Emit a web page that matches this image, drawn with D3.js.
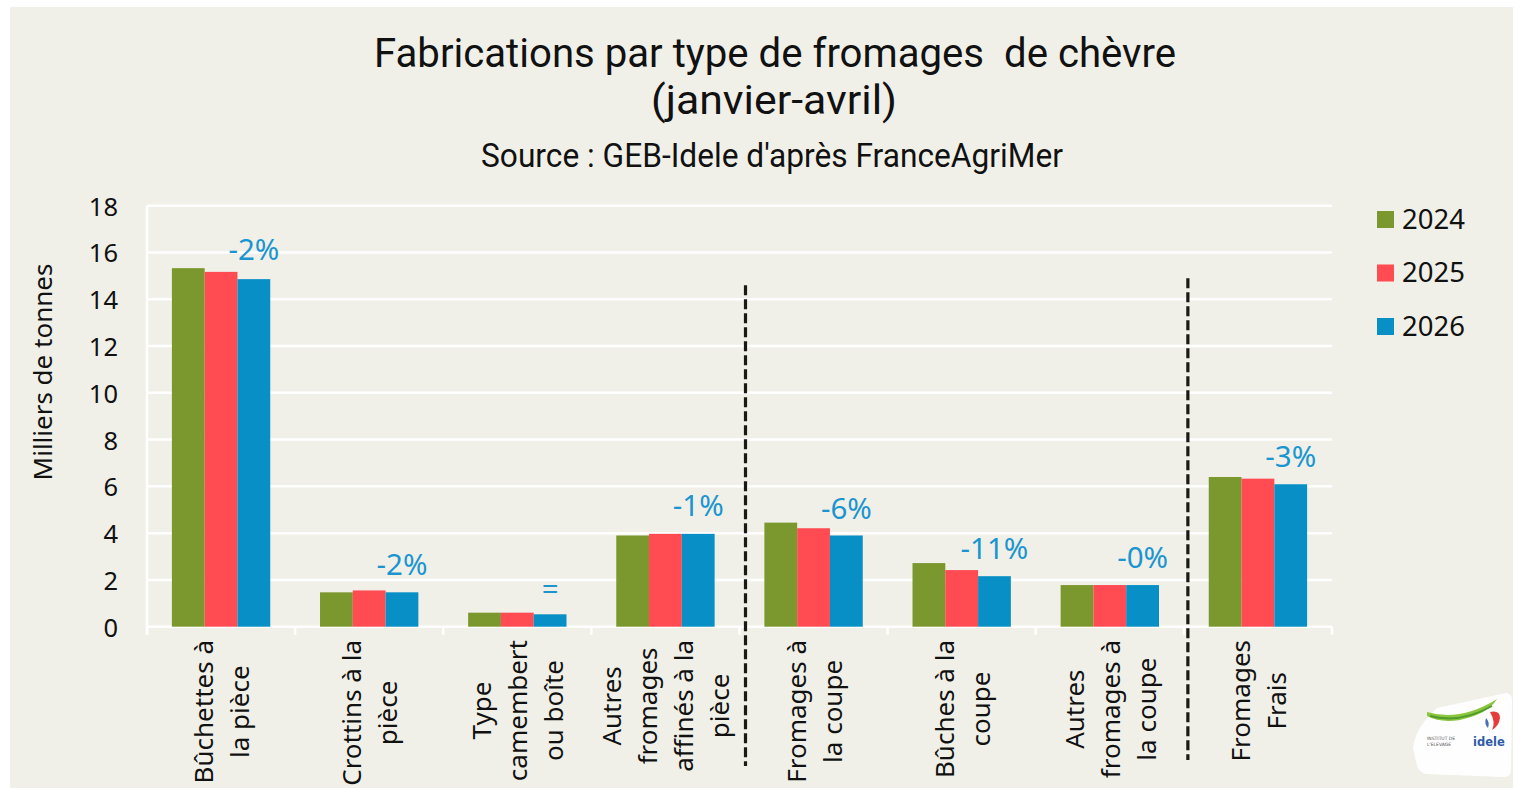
<!DOCTYPE html>
<html>
<head>
<meta charset="utf-8">
<script src="https://cdn.jsdelivr.net/npm/d3@7/dist/d3.min.js"></script>
<style>
  html, body { margin: 0; padding: 0; background: #ffffff; }
  svg { display: block; }
</style>
</head>
<body>
<svg id="chart" width="1516" height="788"></svg>
<script>
// ---------- DATA ----------
const categories = [
  "Bûchettes à la pièce", "Crottins à la pièce", "Type camembert ou boîte",
  "Autres fromages affinés à la pièce", "Fromages à la coupe", "Bûches à la coupe",
  "Autres fromages à la coupe", "Fromages Frais"
];
const categoryLines = [
  ["Bûchettes à", "la pièce"],
  ["Crottins à la", "pièce"],
  ["Type", "camembert", "ou boîte"],
  ["Autres", "fromages", "affinés à la", "pièce"],
  ["Fromages à", "la coupe"],
  ["Bûches à la", "coupe"],
  ["Autres", "fromages à", "la coupe"],
  ["Fromages", "Frais"]
];
const years = ["2024", "2025", "2026"];
const values2024 = [15.33, 1.47, 0.60, 3.90, 4.45, 2.72, 1.78, 6.40];
const values2025 = [15.17, 1.55, 0.60, 3.97, 4.21, 2.42, 1.78, 6.33];
const values2026 = [14.86, 1.47, 0.53, 3.97, 3.90, 2.16, 1.78, 6.09];
const changeLabels = ["-2%", "-2%", "=", "-1%", "-6%", "-11%", "-0%", "-3%"];
const changeLabelLevel = [16.15, 2.70, 1.69, 5.23, 5.09, 3.39, 2.99, 7.33];
const yTicks = [0, 2, 4, 6, 8, 10, 12, 14, 16, 18];
const separatorsAfter = [3, 6]; // dashed separators after these category indexes
const titleLines = ["Fabrications par type de fromages  de chèvre", "(janvier-avril)"];
const subtitle = "Source : GEB-Idele d'après FranceAgriMer";
const yAxisTitle = "Milliers de tonnes";

// ---------- STYLE ----------
const colors = { "2024": "#7b982e", "2025": "#ff4b51", "2026": "#088fc5" };
const bg = "#f0f0e8";
const labelBlue = "#1a95d0";
const bodyFont = "'Noto Sans', 'Open Sans', sans-serif";
const titleFont = "'Liberation Sans Narrow', 'Arial Narrow', 'Roboto', sans-serif";

const svg = d3.select("#chart");
svg.append("rect").attr("x", 10).attr("y", 7).attr("width", 1503).attr("height", 781).attr("fill", bg);

const plot = { left: 147, right: 1332, top: 205.7, bottom: 626.7 };

const x = d3.scaleBand().domain(categories).range([plot.left, plot.right]).paddingInner(0).paddingOuter(0);
const bw = x.bandwidth();
const x1 = d3.scaleBand().domain(years).range([bw * 0.168, bw * 0.832]);
const y = d3.scaleLinear().domain([0, 18]).range([plot.bottom, plot.top]);

// gridlines
svg.append("g").selectAll("line").data(yTicks).join("line")
  .attr("x1", plot.left).attr("x2", plot.right)
  .attr("y1", d => y(d)).attr("y2", d => y(d))
  .attr("stroke", "#ffffff").attr("stroke-width", 2.5);

// y axis line
svg.append("line").attr("x1", plot.left).attr("x2", plot.left)
  .attr("y1", y(18)).attr("y2", y(0) + 8)
  .attr("stroke", "#ffffff").attr("stroke-width", 2.5);

// x axis tick marks at category boundaries
const boundaries = categories.map(c => x(c)).concat([plot.right]);
svg.append("g").selectAll("line").data(boundaries).join("line")
  .attr("x1", d => d).attr("x2", d => d)
  .attr("y1", y(0)).attr("y2", y(0) + 8)
  .attr("stroke", "#ffffff").attr("stroke-width", 2.5);

// y tick labels
svg.append("g").selectAll("text").data(yTicks).join("text")
  .attr("x", 118).attr("y", d => y(d))
  .attr("text-anchor", "end").attr("dominant-baseline", "central")
  .attr("font-family", bodyFont).attr("font-size", 25.5).attr("fill", "#111")
  .text(d => d);

// y axis title
svg.append("text")
  .attr("transform", `translate(42, 372) rotate(-90)`)
  .attr("text-anchor", "middle").attr("dominant-baseline", "central")
  .attr("font-family", bodyFont).attr("font-size", 26).attr("fill", "#111")
  .text(yAxisTitle);

// bars
const seriesValues = { "2024": values2024, "2025": values2025, "2026": values2026 };
const barData = [];
categories.forEach((c, i) => years.forEach(yr => barData.push({ c, yr, v: seriesValues[yr][i] })));
svg.append("g").selectAll("rect").data(barData).join("rect")
  .attr("x", d => x(d.c) + x1(d.yr))
  .attr("width", x1.bandwidth())
  .attr("y", d => y(d.v))
  .attr("height", d => y(0) - y(d.v))
  .attr("fill", d => colors[d.yr]);

// change labels
svg.append("g").selectAll("text").data(categories).join("text")
  .attr("x", (c) => x(c) + x1("2026") + x1.bandwidth() / 2)
  .attr("y", (c, i) => y(changeLabelLevel[i]))
  .attr("text-anchor", "middle").attr("dominant-baseline", "central")
  .attr("font-family", bodyFont).attr("font-size", 29.5).attr("fill", labelBlue)
  .text((c, i) => changeLabels[i]);

// dashed separators
const sepTop = [14.6, 14.9];
separatorsAfter.forEach((idx, k) => {
  const sx = x(categories[idx]) + bw + (k === 0 ? 6 : 4);
  svg.append("line")
    .attr("x1", sx).attr("x2", sx)
    .attr("y1", y(sepTop[k])).attr("y2", k === 0 ? 766 : 760)
    .attr("stroke", "#1a1a14").attr("stroke-width", 3.2)
    .attr("stroke-dasharray", "10,4");
});

// x category labels (rotated, multiline, centred)
const lineGap = 36;
const labelTop = 640;
categoryLines.forEach((lines, i) => {
  const cx = x(categories[i]) + bw / 2;
  const g = svg.append("g");
  const texts = lines.map((ln, j) => g.append("text")
    .attr("text-anchor", "middle").attr("dominant-baseline", "central")
    .attr("font-family", bodyFont).attr("font-size", 26).attr("fill", "#111")
    .text(ln));
  const maxLen = d3.max(texts, t => t.node().getComputedTextLength());
  texts.forEach((t, j) => {
    const lx = cx + (j - (lines.length - 1) / 2) * lineGap;
    t.attr("transform", `translate(${lx}, ${labelTop + maxLen / 2}) rotate(-90)`);
  });
});

// legend
years.forEach((yr, i) => {
  const ly = 219 + i * 53.5;
  svg.append("rect").attr("x", 1377).attr("y", ly - 8).attr("width", 17).attr("height", 17).attr("fill", colors[yr]);
  svg.append("text").attr("x", 1402).attr("y", ly - 1)
    .attr("dominant-baseline", "central")
    .attr("font-family", bodyFont).attr("font-size", 27.5).attr("fill", "#111")
    .text(yr);
});

// titles
svg.append("text").attr("x", 775).attr("y", 67).attr("text-anchor", "middle")
  .attr("font-family", titleFont).attr("font-size", 40).attr("fill", "#111")
  .attr("textLength", 802).attr("lengthAdjust", "spacingAndGlyphs")
  .style("white-space", "pre").text(titleLines[0]);
svg.append("text").attr("x", 774).attr("y", 114).attr("text-anchor", "middle")
  .attr("font-family", titleFont).attr("font-size", 40).attr("fill", "#111")
  .attr("textLength", 246).attr("lengthAdjust", "spacingAndGlyphs")
  .text(titleLines[1]);
svg.append("text").attr("x", 772).attr("y", 167).attr("text-anchor", "middle")
  .attr("font-family", titleFont).attr("font-size", 34).attr("fill", "#111")
  .attr("textLength", 582).attr("lengthAdjust", "spacingAndGlyphs")
  .text(subtitle);

// logo (approximation)
const logo = svg.append("g");
logo.append("path").attr("d", "M1437,708 L1506,693 Q1513,694 1512,702 L1511,772 Q1510,777 1503,777 L1426,774 Q1418,772 1416,762 L1413,748 Q1415,728 1437,708 Z")
  .attr("fill", "#ffffff").attr("opacity", 0.92);
logo.append("path").attr("d", "M1427,712 Q1460,722 1497,699 Q1488,714 1460,720 Q1440,723 1427,716 Z")
  .attr("fill", "#8cc63f");
logo.append("path").attr("d", "M1430,716 Q1460,724 1492,706").attr("fill", "none").attr("stroke", "#4e9a2a").attr("stroke-width", 2);
logo.append("path").attr("d", "M1490,712 Q1500,710 1500,718 Q1499,726 1492,730 Q1496,722 1490,712 Z").attr("fill", "#e63c3c");
logo.append("path").attr("d", "M1486,718 Q1490,722 1488,728 Q1484,724 1486,718 Z").attr("fill", "#4a6fb5");
logo.append("text").attr("x", 1473).attr("y", 746).attr("font-family", "'DejaVu Sans', sans-serif")
  .attr("font-weight", "bold").attr("font-size", 11.5).attr("fill", "#2f5ca8").text("idele");
logo.append("text").attr("x", 1427).attr("y", 740).attr("font-family", "'DejaVu Sans', sans-serif")
  .attr("font-size", 4.5).attr("fill", "#555").text("INSTITUT DE");
logo.append("text").attr("x", 1427).attr("y", 746).attr("font-family", "'DejaVu Sans', sans-serif")
  .attr("font-size", 4.5).attr("fill", "#555").text("L'ELEVAGE");
</script>
</body>
</html>
